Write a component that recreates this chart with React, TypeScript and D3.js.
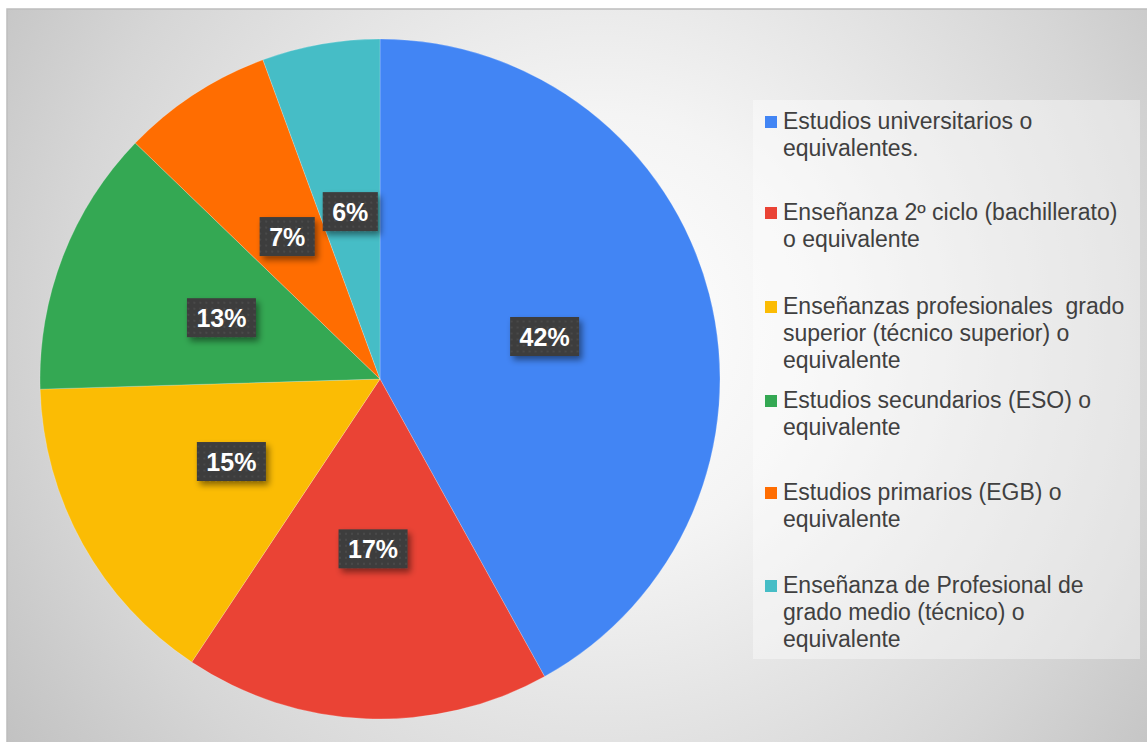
import React from "react";
import * as d3 from "d3";

const categories = [
  "Estudios universitarios o equivalentes.",
  "Enseñanza 2º ciclo (bachillerato) o equivalente",
  "Enseñanzas profesionales  grado superior (técnico superior) o equivalente",
  "Estudios secundarios (ESO) o equivalente",
  "Estudios primarios (EGB) o equivalente",
  "Enseñanza de Profesional de grado medio (técnico) o equivalente",
];
const legendLines = [
  ["Estudios universitarios o", "equivalentes."],
  ["Enseñanza 2º ciclo (bachillerato)", "o equivalente"],
  ["Enseñanzas profesionales  grado", "superior (técnico superior) o", "equivalente"],
  ["Estudios secundarios (ESO) o", "equivalente"],
  ["Estudios primarios (EGB) o", "equivalente"],
  ["Enseñanza de Profesional de", "grado medio (técnico) o", "equivalente"],
];
const values = [42.0, 17.4, 15.2, 12.7, 7.2, 5.6];
const colors = ["#4285F4", "#EA4335", "#FBBC04", "#34A853", "#FF6D01", "#46BDC6"];

const W = 1147;
const H = 742;
const CX = 380;
const CY = 379;
const R = 340;
const legendFirstBaselines = [129, 220, 314, 408, 500, 593];
const LINE_H = 26.8;

export default function App() {
  const total = d3.sum(values);
  const pie = d3.pie<number>().sort(null).value((d) => d)(values);
  const arc = d3.arc<d3.PieArcDatum<number>>().innerRadius(0).outerRadius(R);
  const font = "Arial, 'Liberation Sans', sans-serif";

  return (
    <svg
      width={W}
      height={H}
      style={{ position: "absolute", left: 0, top: 0, display: "block" }}
      xmlns="http://www.w3.org/2000/svg"
    >
      <defs>
        <radialGradient id="bg" cx="600" cy="330" r="720" gradientUnits="userSpaceOnUse">
          <stop offset="0" stopColor="#ffffff" />
          <stop offset="0.3" stopColor="#f4f4f4" />
          <stop offset="0.75" stopColor="#d6d6d6" />
          <stop offset="1" stopColor="#c2c2c2" />
        </radialGradient>
        <pattern id="dots" width="6" height="6" patternUnits="userSpaceOnUse">
          <rect width="6" height="6" fill="#3d3d3d" />
          <circle cx="3" cy="3" r="0.9" fill="#4f4f4f" />
        </pattern>
        <filter id="shadow" x="-30%" y="-30%" width="170%" height="190%">
          <feDropShadow dx="3" dy="4" stdDeviation="3" floodColor="#000" floodOpacity="0.45" />
        </filter>
      </defs>
      <rect x={0} y={0} width={W} height={H} fill="#ffffff" />
      <rect x={7} y={9} width={W} height={H} fill="url(#bg)" stroke="#bdbdbd" strokeWidth={1.5} />

      <g transform={`translate(${CX},${CY})`}>
        {pie.map((p, i) => (
          <path key={i} d={arc(p) || ""} fill={colors[i]} stroke="#ffffff" strokeOpacity={0.35} strokeWidth={0.6} />
        ))}
        {pie.map((p, i) => {
          const [lx, ly] = arc.centroid(p);
          const label = `${Math.round((p.value / total) * 100)}%`;
          const fs = 25;
          const tw = (label.length - 1) * 0.556 * fs + 0.889 * fs;
          const bw = tw + 19;
          const bh = 39;
          return (
            <g key={`l${i}`} transform={`translate(${lx},${ly})`}>
              <rect x={-bw / 2} y={-bh / 2} width={bw} height={bh} fill="url(#dots)" filter="url(#shadow)" />
              <text
                x={0}
                y={0}
                dy="0.36em"
                textAnchor="middle"
                fontFamily={font}
                fontWeight="bold"
                fontSize={fs}
                fill="#ffffff"
              >
                {label}
              </text>
            </g>
          );
        })}
      </g>

      <rect x={753} y={100} width={387} height={559} fill="#ffffff" fillOpacity={0.38} />
      {categories.map((c, i) => {
        const y0 = legendFirstBaselines[i];
        return (
          <g key={c}>
            <rect x={765} y={y0 - 13} width={12} height={12} fill={colors[i]} />
            <text fontFamily={font} fontSize={23} fill="#404040" style={{ whiteSpace: "pre" }}>
              {legendLines[i].map((ln, j) => (
                <tspan key={j} x={783} y={y0 + j * LINE_H}>
                  {ln}
                </tspan>
              ))}
            </text>
          </g>
        );
      })}
    </svg>
  );
}
